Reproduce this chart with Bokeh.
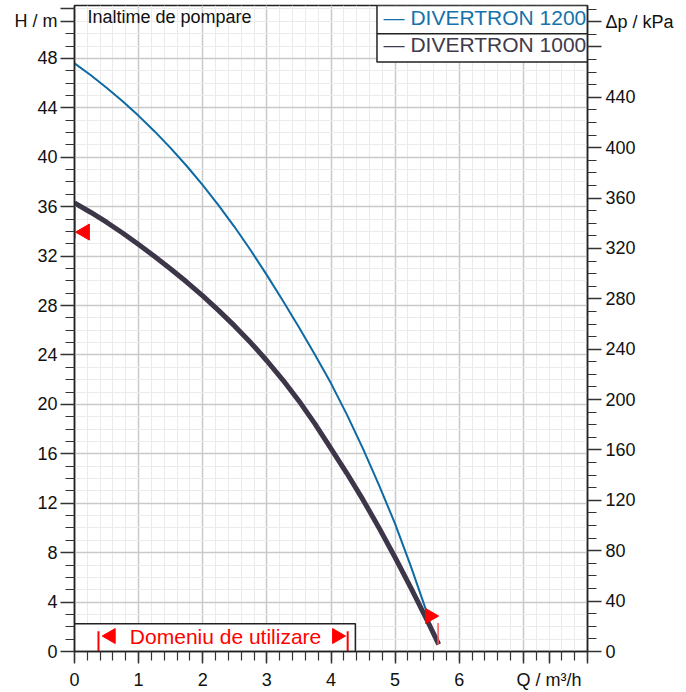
from bokeh.plotting import figure
from bokeh.models import Range1d, LinearAxis, FixedTicker, Label
from bokeh.core.properties import value
from bokeh.embed import file_html
from bokeh.resources import INLINE

# ---------------- data ----------------
q_1200 = [0, 0.25, 0.5, 0.75, 1.0, 1.25, 1.5, 1.75, 2.0, 2.25, 2.5, 2.75, 3.0,
          3.25, 3.5, 3.75, 4.0, 4.25, 4.5, 4.75, 5.0, 5.25, 5.5]
h_1200 = [47.6, 46.65, 45.63, 44.53, 43.35, 42.09, 40.74, 39.29, 37.74, 36.09, 34.33, 32.45, 30.46,
          28.39, 26.24, 24.01, 21.7, 19.15, 16.4, 13.45, 10.33, 6.83, 3.08]

q_1000 = [0, 0.25, 0.5, 0.75, 1.0, 1.25, 1.5, 1.75, 2.0, 2.25, 2.5, 2.75, 3.0,
          3.25, 3.5, 3.75, 4.0, 4.25, 4.5, 4.75, 5.0, 5.25, 5.5, 5.68]
h_1000 = [36.3, 35.55, 34.74, 33.87, 32.94, 31.97, 30.96, 29.9, 28.78, 27.59, 26.33, 24.98, 23.53,
          21.97, 20.28, 18.42, 16.42, 14.4, 12.27, 10.0, 7.61, 5.11, 2.51, 0.57]

series_names = ["DIVERTRON 1200", "DIVERTRON 1000"]
series_colors = ["#0d6aa3", "#3d3548"]
legend_colors = ["#1672aa", "#3f3a4c"]

q_ticks = [0, 1, 2, 3, 4, 5, 6, 7, 7.4, 8]
q_minor = [round(i * 0.2, 1) for i in range(41)]
h_ticks = [0, 4, 8, 12, 16, 20, 24, 28, 32, 36, 40, 44, 48, 51, 52]
h_minor = list(range(0, 53))
p_ticks = [0, 40, 80, 120, 160, 200, 240, 280, 320, 360, 400, 440, 480, 500]
p_minor = list(range(0, 511, 10))

x_title = "Q / m³/h"
y_title = "H / m"
y2_title = "Δp / kPa"
corner_title = "Inaltime de pompare"
domain_title = "Domeniu de utilizare"

KPA_PER_M = 9.81
Q_MAX = 8.0
H_TOP = 52.28

# usage domain / operating markers
domain_q = [0.374, 4.26]        # usage domain limits
domain_box = [0.0, 4.38, 0.0, 2.24]
op_left = (0.16, 33.94)
op_left_bar = (0.0, 33.45, 35.96)
op_right = (5.543, 2.87)
op_right_bar = (5.67, 0.55, 2.3)

FONT = "Liberation Sans"

p = figure(width=686, height=692, output_backend="svg", toolbar_location=None,
           x_range=Range1d(0, Q_MAX), y_range=Range1d(0, H_TOP),
           min_border_left=74, min_border_right=99, min_border_top=5,
           min_border_bottom=40)
p.background_fill_color = "white"
p.border_fill_color = "white"
p.outline_line_color = "#222222"
p.outline_line_width = 1.5

# axes
xa = p.xaxis[0]
xa.ticker = FixedTicker(ticks=q_ticks, minor_ticks=q_minor)
xa.major_label_overrides = {7: "", 7.4: x_title, 8: ""}
ya = p.yaxis[0]
ya.ticker = FixedTicker(ticks=h_ticks, minor_ticks=h_minor)
ya.major_label_overrides = {51: y_title, 52: ""}

p.extra_y_ranges = {"kpa": Range1d(0, H_TOP * KPA_PER_M)}
ra = LinearAxis(y_range_name="kpa", ticker=FixedTicker(ticks=p_ticks, minor_ticks=p_minor))
ra.major_label_overrides = {480: "", 500: y2_title}
p.add_layout(ra, "right")

for ax in (xa, ya, ra):
    ax.axis_line_color = "#222222"
    ax.axis_line_width = 1.5
    ax.major_tick_line_color = "#333333"
    ax.minor_tick_line_color = "#333333"
    ax.major_tick_line_width = 1.5
    ax.minor_tick_line_width = 1.2
    ax.major_tick_in = 0
    ax.minor_tick_in = 0
    ax.major_tick_out = 14
    ax.minor_tick_out = 9
    ax.major_label_text_font = FONT
    ax.major_label_text_font_size = "18px"
    ax.major_label_text_color = "#111111"
ya.major_label_standoff = 3
ra.major_label_standoff = 4
xa.major_tick_out = 12
xa.minor_tick_out = 9
xa.major_label_standoff = 6

# grid
p.xgrid.ticker = FixedTicker(ticks=[0, 1, 2, 3, 4, 5, 6, 7, 8], minor_ticks=q_minor)
p.ygrid.ticker = FixedTicker(ticks=h_ticks[:13], minor_ticks=h_minor)
for g in (p.xgrid, p.ygrid):
    g.grid_line_color = "#c9c9c9"
    g.grid_line_width = 1.5
    g.minor_grid_line_color = "#ebebeb"
    g.minor_grid_line_width = 1

# curves
p.line(q_1200, h_1200, line_color=series_colors[0], line_width=2, line_join="round")
p.line(q_1000, h_1000, line_color=series_colors[1], line_width=5, line_join="round")

# legend box (clipped by the frame like the original)
p.quad(left=[4.717], right=[Q_MAX], bottom=[47.7], top=[H_TOP],
       fill_color="white", line_color="#222222", line_width=1.5)
p.segment(x0=[4.717], x1=[Q_MAX], y0=[50.0], y1=[50.0], line_color="#222222", line_width=1.5)
p.text(x=[4.82, 4.82], y=[51.27, 49.13], text=["— " + n for n in series_names],
       text_color=legend_colors, text_font=value(FONT), text_font_size="21px",
       text_baseline="middle", text_align="left")

# usage domain box
p.quad(left=[domain_box[0]], right=[domain_box[1]], bottom=[domain_box[2]], top=[domain_box[3]],
       fill_color="white", line_color="#222222", line_width=1.5)
p.segment(x0=domain_q, x1=domain_q, y0=[0, 0], y1=[1.64, 1.64], line_color="red", line_width=2)
p.scatter(x=[0.567, 4.092], y=[1.25, 1.25], marker="triangle", angle=[1.5708, -1.5708],
          size=15, fill_color="red", line_color="red")
p.text(x=[2.356], y=[1.25], text=[domain_title], text_color="red",
       text_font=value(FONT), text_font_size="21px", text_baseline="middle", text_align="center")

# operating markers
p.segment(x0=[op_left_bar[0]], x1=[op_left_bar[0]], y0=[op_left_bar[1]], y1=[op_left_bar[2]],
          line_color="red", line_width=2)
p.scatter(x=[op_left[0]], y=[op_left[1]], marker="triangle", angle=1.5708, size=16,
          fill_color="red", line_color="red")
p.segment(x0=[op_right_bar[0]], x1=[op_right_bar[0]], y0=[op_right_bar[1]], y1=[op_right_bar[2]],
          line_color="#ff5a5a", line_width=1.5)
p.scatter(x=[op_right[0]], y=[op_right[1]], marker="triangle", angle=-1.5708, size=15,
          fill_color="red", line_color="red")

# corner title inside the frame
p.add_layout(Label(x=0.203, y=51.31, text=corner_title, text_font=FONT, text_font_size="18px",
                   text_baseline="middle", text_align="left", text_color="#111111"))

open("out.html", "w").write(file_html(p, INLINE))
